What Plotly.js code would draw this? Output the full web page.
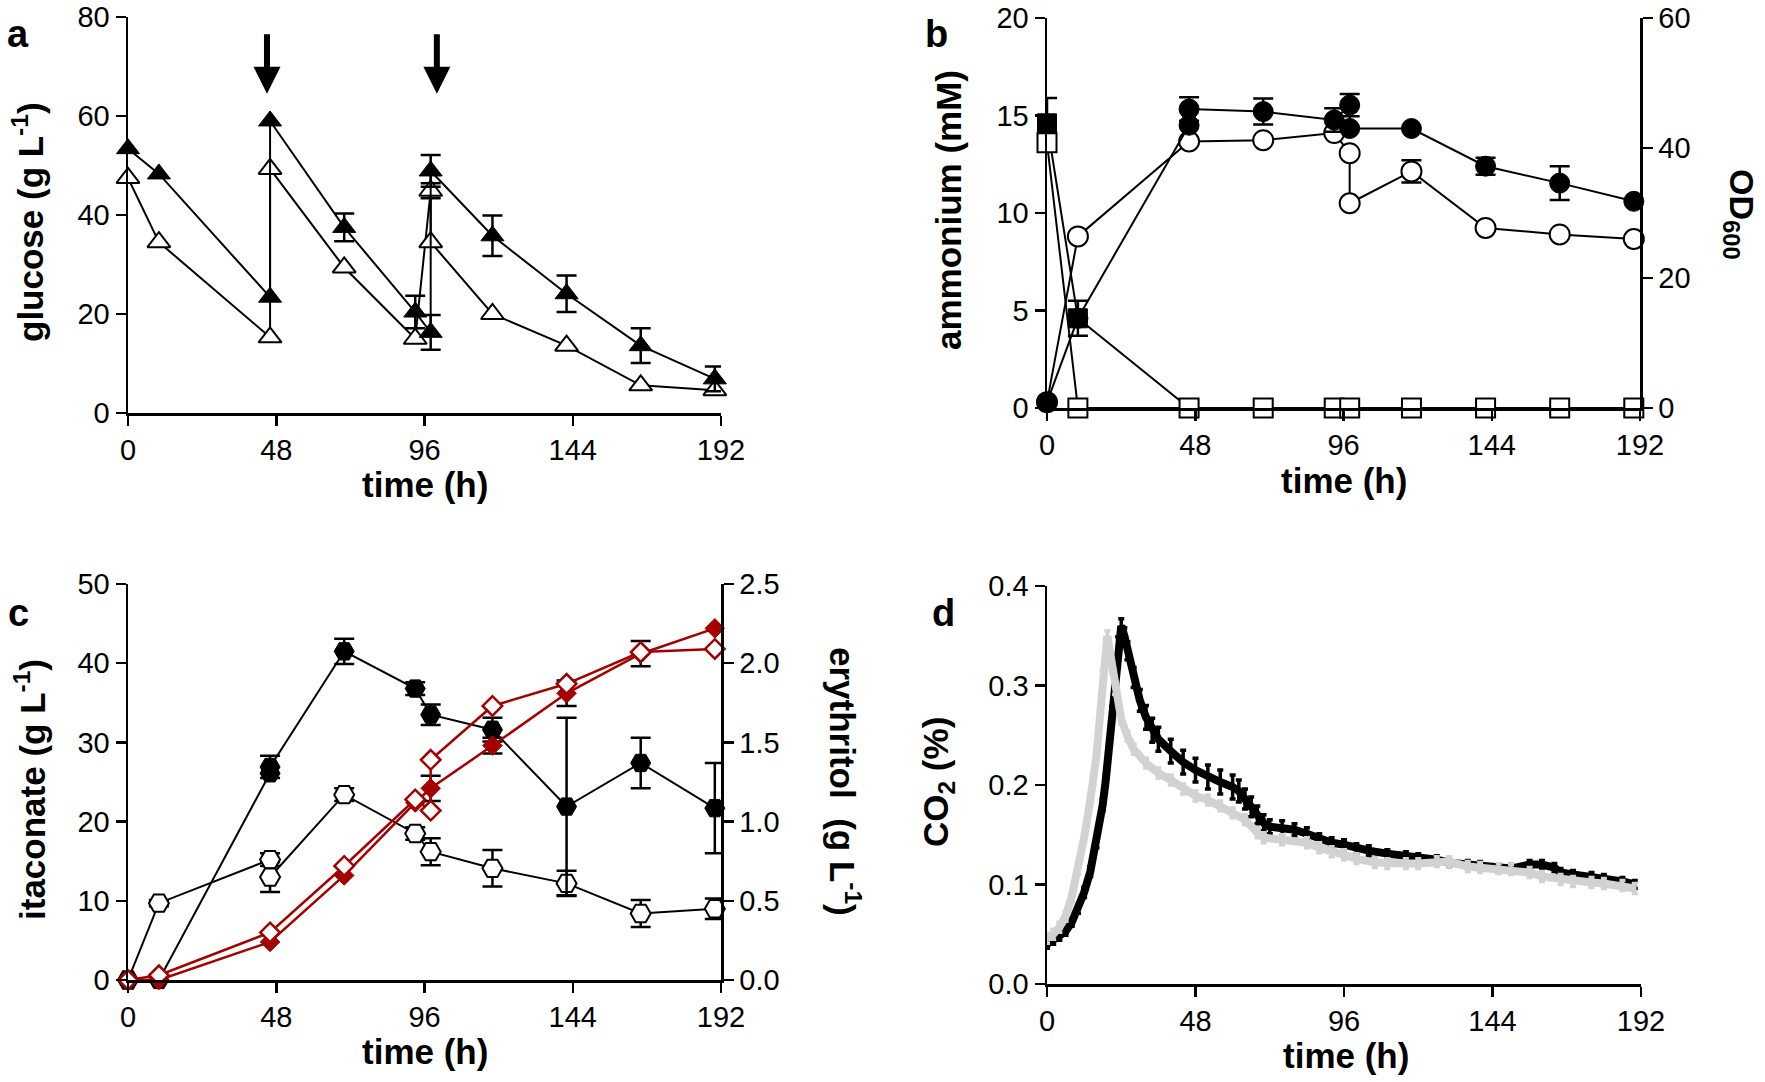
<!DOCTYPE html>
<html><head><meta charset="utf-8">
<script src="https://cdn.plot.ly/plotly-3.0.1.min.js"></script>
<style>html,body{margin:0;padding:0;background:#fff}</style>
</head><body><div id="chart" style="width:1765px;height:1082px"></div>
<script>
// ---------- Panel a : glucose ----------
const timeA = [0, 10, 46, 46, 70, 93, 98, 98, 118, 142, 166, 190];
const glucoseFilled = [53.4, 48.3, 23.4, 59.0, 37.5, 20.4, 16.3, 48.9, 35.8, 24.1, 13.6, 6.9];
const glucoseFilledErr = [0, 0, 0, 0, 2.8, 3.3, 3.5, 3.2, 4.1, 3.7, 3.5, 2.5];
const glucoseOpen = [47.5, 34.5, 15.3, 49.3, 29.4, 15.0, 44.9, 34.5, 20.0, 13.6, 5.6, 4.6];
const glucoseOpenErr = [0, 0, 0, 0, 0, 0, 1.5, 0, 0, 0, 0, 0];
const feedTimes = [45, 100];

// ---------- Panel b : ammonium & OD600 ----------
const timeB = [0, 10, 46, 70, 93, 98, 118, 142, 166, 190];
const ammoniumFilled = [14.6, 4.6, 0, 0, 0, 0, 0, 0, 0, 0];
const ammoniumFilledErr = [1.3, 0.9, 0, 0, 0, 0, 0, 0, 0, 0];
const ammoniumOpen = [13.6, 0, 0, 0, 0, 0, 0, 0, 0, 0];
const timeODFilled = [0, 10, 46, 46, 70, 93, 98, 98, 118, 142, 166, 190];
const odFilled = [0.9, 13.8, 43.5, 46.0, 45.6, 44.3, 46.6, 43.0, 43.0, 37.2, 34.6, 31.8];
const odFilledErr = [0, 0, 0, 1.8, 2.0, 1.8, 1.7, 0, 0, 1.3, 2.6, 0];
const timeODOpen = [0, 10, 46, 70, 93, 98, 98, 118, 142, 166, 190];
const odOpen = [0.9, 26.4, 41.0, 41.2, 42.3, 39.2, 31.5, 36.4, 27.7, 26.7, 26.0];
const odOpenErr = [0, 0, 0, 0, 0, 0, 0, 1.7, 0, 0, 0];

// ---------- Panel c : itaconate & erythritol ----------
const timeItaFilled = [0, 10, 46, 46, 70, 93, 98, 118, 142, 166, 190];
const itaFilled = [0, 0, 26.1, 26.9, 41.5, 36.8, 33.5, 31.6, 21.9, 27.4, 21.7];
const itaFilledErr = [0, 0, 0, 1.4, 1.6, 0.8, 1.3, 1.5, 11.2, 3.2, 5.7];
const timeItaOpen = [0, 10, 46, 46, 70, 93, 98, 118, 142, 166, 190];
const itaOpen = [0, 9.7, 15.2, 13.0, 23.4, 18.5, 16.2, 14.1, 12.2, 8.4, 9.0];
const itaOpenErr = [0, 0.4, 0.8, 1.9, 0.8, 0.8, 1.7, 2.3, 1.6, 1.7, 1.3];
const timeEryFilled = [0, 10, 46, 70, 93, 98, 118, 142, 166, 190];
const eryFilled = [0, 0.0, 0.24, 0.66, 1.12, 1.21, 1.48, 1.81, 2.06, 2.22];
const eryFilledErr = [0, 0, 0, 0, 0, 0.08, 0.05, 0.08, 0.08, 0];
const timeEryOpen = [0, 10, 46, 70, 93, 98, 98, 118, 142, 166, 190];
const eryOpen = [0, 0.03, 0.30, 0.72, 1.14, 1.07, 1.39, 1.73, 1.87, 2.07, 2.09];

// ---------- Panel d : CO2 off-gas ----------
const timeCO2Black = [0,2,4,6,8,10,12,14,16,18,19,20,21,22,23,24,25,26,28,30,32,34,36,40,44,48,52,56,60,62,64,66,68,70,72,76,80,84,88,92,96,100,104,110,116,120,126,130,136,140,146,150,156,160,164,166,170,176,180,186,190];
const co2Black = [0.040,0.044,0.048,0.053,0.062,0.075,0.092,0.113,0.142,0.180,0.205,0.235,0.272,0.310,0.342,0.360,0.350,0.335,0.308,0.285,0.268,0.255,0.246,0.234,0.223,0.215,0.208,0.203,0.198,0.194,0.186,0.178,0.170,0.162,0.158,0.157,0.155,0.151,0.146,0.142,0.140,0.136,0.134,0.131,0.129,0.127,0.125,0.122,0.120,0.119,0.116,0.116,0.120,0.120,0.117,0.112,0.110,0.108,0.106,0.103,0.100];
const co2BlackErr = [0.004,0.004,0.004,0.004,0.004,0.004,0.005,0.005,0.005,0.006,0.006,0.006,0.007,0.007,0.007,0.007,0.008,0.009,0.010,0.011,0.012,0.012,0.012,0.012,0.012,0.012,0.012,0.012,0.012,0.011,0.010,0.010,0.009,0.008,0.007,0.007,0.006,0.006,0.005,0.005,0.005,0.005,0.005,0.004,0.004,0.004,0.004,0.004,0.004,0.004,0.004,0.004,0.004,0.004,0.004,0.004,0.004,0.004,0.004,0.004,0.004];
const timeCO2Gray = [0,2,4,6,8,10,12,14,15,16,17,18,19,19.5,20,21,22,24,26,28,32,36,40,44,48,52,56,60,64,68,70,76,84,88,92,96,100,106,110,116,120,126,130,136,140,146,150,156,160,166,170,176,180,186,190];
const co2Gray = [0.046,0.050,0.057,0.068,0.088,0.115,0.147,0.185,0.205,0.230,0.265,0.310,0.342,0.350,0.340,0.318,0.296,0.266,0.249,0.236,0.222,0.212,0.205,0.196,0.189,0.185,0.179,0.172,0.165,0.152,0.147,0.145,0.142,0.137,0.133,0.130,0.126,0.122,0.121,0.121,0.121,0.123,0.123,0.118,0.117,0.116,0.115,0.112,0.108,0.105,0.103,0.102,0.101,0.099,0.096];

const timeTicks = [0, 48, 96, 144, 192];

// ---------- layout helpers ----------
const W = 1765, H = 1082;
const fx = v => v / W;
const fy = v => 1 - v / H;
const FONT = 'Liberation Sans, Arial, Helvetica, sans-serif';
const RED = '#a50000';

function errObj(arr) {
  return {type: 'data', array: arr.map(v => v > 0 ? v : NaN), visible: true,
          color: 'black', thickness: 2.5, width: 10};
}
function axisBase(extra) {
  return Object.assign({
    showgrid: false, zeroline: false, showline: true, linecolor: 'black', linewidth: 2.5,
    ticks: 'outside', ticklen: 10, tickwidth: 2.5, tickcolor: 'black', ticklabeloverflow: 'allow',
    tickfont: {family: FONT, size: 29, color: 'black'}, fixedrange: true
  }, extra);
}
function xAxis(d0, d1, anchor) {
  return axisBase({domain: [fx(d0), fx(d1)], anchor: anchor, range: [0, 192],
                   tickmode: 'array', tickvals: timeTicks});
}

const traces = [];
// Panel a
traces.push({x: timeA, y: glucoseOpen, xaxis: 'x', yaxis: 'y', mode: 'lines+markers', cliponaxis: false,
  line: {color: 'black', width: 2}, error_y: errObj(glucoseOpenErr),
  marker: {symbol: 'triangle-up', size: 20, color: 'white', line: {color: 'black', width: 2}}});
traces.push({x: timeA, y: glucoseFilled, xaxis: 'x', yaxis: 'y', mode: 'lines+markers', cliponaxis: false,
  line: {color: 'black', width: 2}, error_y: errObj(glucoseFilledErr),
  marker: {symbol: 'triangle-up', size: 20, color: 'black', line: {color: 'black', width: 1}}});

// Panel b
traces.push({x: timeB, y: ammoniumFilled, xaxis: 'x2', yaxis: 'y2', mode: 'lines+markers', cliponaxis: false,
  line: {color: 'black', width: 2}, error_y: errObj(ammoniumFilledErr),
  marker: {symbol: 'square', size: 19, color: 'black', line: {color: 'black', width: 1}}});
traces.push({x: timeB, y: ammoniumOpen, xaxis: 'x2', yaxis: 'y2', mode: 'lines+markers', cliponaxis: false,
  line: {color: 'black', width: 2},
  marker: {symbol: 'square', size: 19, color: 'white', line: {color: 'black', width: 2}}});
traces.push({x: timeODOpen, y: odOpen, xaxis: 'x2', yaxis: 'y3', mode: 'lines+markers', cliponaxis: false,
  line: {color: 'black', width: 2}, error_y: errObj(odOpenErr),
  marker: {symbol: 'circle', size: 20, color: 'white', line: {color: 'black', width: 2}}});
traces.push({x: timeODFilled, y: odFilled, xaxis: 'x2', yaxis: 'y3', mode: 'lines+markers', cliponaxis: false,
  line: {color: 'black', width: 2}, error_y: errObj(odFilledErr),
  marker: {symbol: 'circle', size: 20, color: 'black', line: {color: 'black', width: 1}}});

// Panel c
traces.push({x: timeItaOpen, y: itaOpen, xaxis: 'x3', yaxis: 'y4', mode: 'lines+markers', cliponaxis: false,
  line: {color: 'black', width: 2}, error_y: errObj(itaOpenErr),
  marker: {symbol: 'hexagon2', size: 20, color: 'white', line: {color: 'black', width: 2}}});
traces.push({x: timeItaFilled, y: itaFilled, xaxis: 'x3', yaxis: 'y4', mode: 'lines+markers', cliponaxis: false,
  line: {color: 'black', width: 2}, error_y: errObj(itaFilledErr),
  marker: {symbol: 'hexagon2', size: 20, color: 'black', line: {color: 'black', width: 1}}});
traces.push({x: timeEryFilled, y: eryFilled, xaxis: 'x3', yaxis: 'y5', mode: 'lines+markers', cliponaxis: false,
  line: {color: RED, width: 2.5}, error_y: errObj(eryFilledErr),
  marker: {symbol: 'diamond', size: 15, color: RED, line: {color: RED, width: 1}}});
traces.push({x: timeEryOpen, y: eryOpen, xaxis: 'x3', yaxis: 'y5', mode: 'lines+markers', cliponaxis: false,
  line: {color: RED, width: 2.5},
  marker: {symbol: 'diamond', size: 15, color: 'white', line: {color: RED, width: 2.5}}});

// Panel d
traces.push({x: timeCO2Black, y: co2Black, xaxis: 'x4', yaxis: 'y6', mode: 'lines', cliponaxis: false,
  line: {color: 'black', width: 8},
  error_y: {type: 'data', array: co2BlackErr, visible: true, color: 'black', thickness: 3.5, width: 3}});
traces.push({x: timeCO2Gray, y: co2Gray, xaxis: 'x4', yaxis: 'y6', mode: 'lines', cliponaxis: false,
  line: {color: '#d2d2d2', width: 8},
  error_y: {type: 'constant', value: 0.005, visible: true, color: '#d2d2d2', thickness: 3.5, width: 3}});

function ann(text, x, y, size, angle) {
  return {text: text, xref: 'paper', yref: 'paper', x: fx(x), y: fy(y), xanchor: 'center', yanchor: 'middle',
          showarrow: false, textangle: angle || 0, font: {family: FONT, size: size, color: 'black'}};
}
const annotations = [
  ann('<b>a</b>', 18, 34, 38), ann('<b>b</b>', 937, 34, 38), ann('<b>c</b>', 18, 613, 38), ann('<b>d</b>', 943, 613, 38),
  ann('<b>time (h)</b>', 425, 484, 35), ann('<b>time (h)</b>', 1344, 480, 35),
  ann('<b>time (h)</b>', 425, 1051, 35), ann('<b>time (h)</b>', 1346, 1055, 35),
  ann('<b>glucose (g L<sup>-1</sup>)</b>', 28, 222, 35, -90),
  ann('<b>ammonium (mM)</b>', 948, 210, 35, -90),
  ann('<b>OD<sub>600</sub></b>', 1740, 214, 34, 90),
  ann('<b>itaconate (g L<sup>-1</sup>)</b>', 30, 790, 35, -90),
  ann('<b>erythritol  (g L<sup>-1</sup>)</b>', 845, 781, 35, 90),
  ann('<b>CO<sub>2</sub> (%)</b>', 938, 782, 35, -90)
];
feedTimes.forEach(t => annotations.push({
  text: '', xref: 'x', yref: 'y', x: t, y: 64.5, axref: 'x', ayref: 'y', ax: t, ay: 76.8,
  showarrow: true, arrowhead: 2, arrowsize: 0.9, arrowwidth: 6, arrowcolor: 'black', standoff: 0
}));

const layout = {
  width: W, height: H, margin: {l: 0, r: 0, t: 0, b: 0}, showlegend: false,
  paper_bgcolor: 'white', plot_bgcolor: 'rgba(0,0,0,0)',
  font: {family: FONT, color: 'black'},
  xaxis: xAxis(128, 721, 'y'),
  yaxis: axisBase({domain: [fy(413), fy(17)], anchor: 'x', range: [0, 80], tickmode: 'array', tickvals: [0, 20, 40, 60, 80]}),
  xaxis2: xAxis(1047, 1640, 'y2'),
  yaxis2: axisBase({domain: [fy(408), fy(18)], anchor: 'x2', range: [0, 20], tickmode: 'array', tickvals: [0, 5, 10, 15, 20]}),
  yaxis3: axisBase({overlaying: 'y2', side: 'right', anchor: 'x2', range: [0, 60], tickmode: 'array', tickvals: [0, 20, 40, 60]}),
  xaxis3: xAxis(128, 721, 'y4'),
  yaxis4: axisBase({domain: [fy(980), fy(584)], anchor: 'x3', range: [0, 50], tickmode: 'array', tickvals: [0, 10, 20, 30, 40, 50]}),
  yaxis5: axisBase({overlaying: 'y4', side: 'right', anchor: 'x3', range: [0, 2.5], tickmode: 'array', tickvals: [0, 0.5, 1, 1.5, 2, 2.5], tickformat: '.1f'}),
  xaxis4: xAxis(1047, 1641, 'y6'),
  yaxis6: axisBase({domain: [fy(984), fy(586)], anchor: 'x4', range: [0, 0.4], tickmode: 'array', tickvals: [0, 0.1, 0.2, 0.3, 0.4], tickformat: '.1f'}),
  annotations: annotations
};

Plotly.newPlot('chart', traces, layout, {displayModeBar: false, staticPlot: true});
</script></body></html>
